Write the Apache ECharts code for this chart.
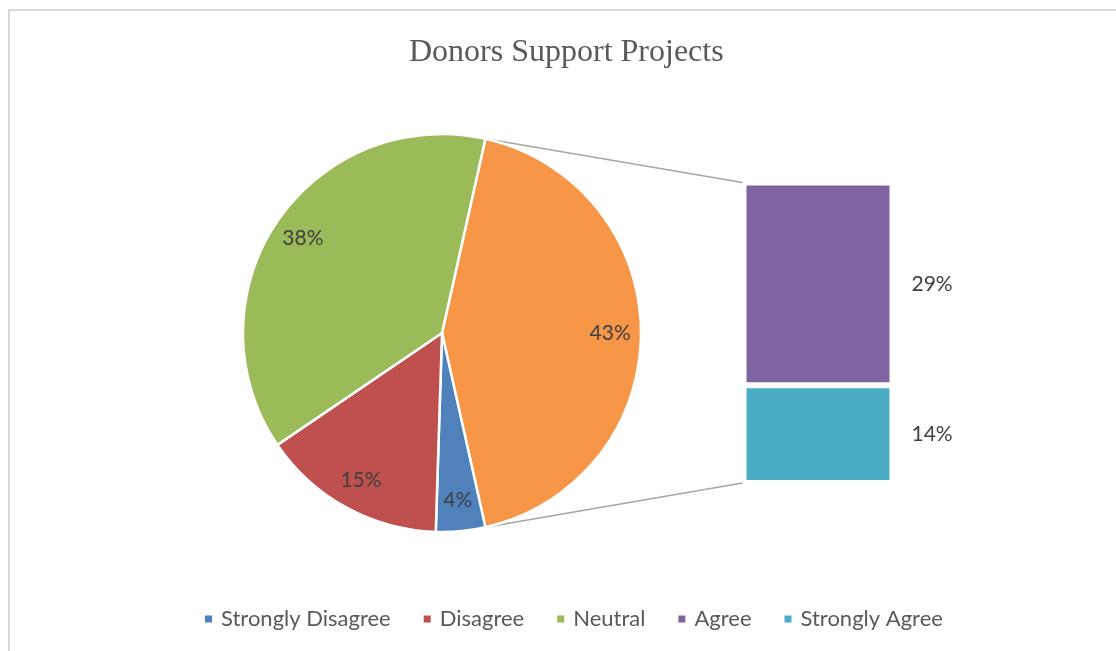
<!DOCTYPE html>
<html>
<head>
<meta charset="utf-8">
<script src="https://cdn.jsdelivr.net/npm/echarts@6/dist/echarts.min.js"></script>
<style>
  html, body { margin: 0; padding: 0; background: #fff; }
  #chart { width: 1116px; height: 651px; }
</style>
</head>
<body>
<div id="chart"></div>
<script>
// Survey answers (percent of respondents)
const pieNames = ['Strongly Disagree', 'Disagree', 'Neutral'];
const pieValues = [4, 15, 38];
const barNames = ['Agree', 'Strongly Agree'];
const barValues = [29, 14];
const otherName = 'Other';
const legendNames = ['Strongly Disagree', 'Disagree', 'Neutral', 'Agree', 'Strongly Agree'];

const colors = {
  'Strongly Disagree': '#4F81BD',
  'Disagree': '#C0504D',
  'Neutral': '#9BBB59',
  'Agree': '#8064A2',
  'Strongly Agree': '#4BACC6',
  'Other': '#F79646'
};

// layout
const pieCenter = [442, 333];
const pieRadius = 199;
const barGrid = { left: 743.5, top: 182.5, width: 149, height: 300.5 };

const otherValue = barValues.reduce((a, b) => a + b, 0);
const total = otherValue + pieValues.reduce((a, b) => a + b, 0);
const otherSweep = otherValue / total * 360;
// the combined slice is centred on the right-hand side, facing the bar
const startAngle = otherSweep / 2;

const pieData = [{ name: otherName, value: otherValue, itemStyle: { color: colors[otherName] } }]
  .concat(pieNames.map((n, i) => ({ name: n, value: pieValues[i], itemStyle: { color: colors[n] } })));

const labelFont = 'Lato, "Open Sans", sans-serif';

const chart = echarts.init(document.getElementById('chart'));

const barLabel = {
  show: true,
  position: 'right',
  distance: 19,
  formatter: '{c}%',
  fontFamily: labelFont,
  fontSize: 21,
  color: '#404040',
  padding: [5, 0, 0, 0]
};

const option = {
  backgroundColor: '#ffffff',
  animation: false,
  title: {
    text: 'Donors Support Projects',
    left: 409,
    top: 37,
    padding: 0,
    textStyle: {
      fontFamily: '"Liberation Serif", "Times New Roman", serif',
      fontSize: 32,
      fontWeight: 'normal',
      color: '#595959'
    }
  },
  legend: {
    data: legendNames,
    bottom: 16,
    left: 198,
    icon: 'rect',
    itemWidth: 9,
    itemHeight: 9,
    itemGap: 31,
    textStyle: {
      fontFamily: labelFont,
      fontSize: 22,
      color: '#595959',
      padding: [0, 0, 0, 3]
    }
  },
  grid: {
    left: barGrid.left,
    top: barGrid.top,
    width: barGrid.width,
    height: barGrid.height
  },
  xAxis: {
    type: 'category',
    data: [otherName],
    show: false
  },
  yAxis: {
    type: 'value',
    min: 0,
    max: otherValue,
    show: false
  },
  series: [
    {
      type: 'pie',
      name: 'Responses',
      center: pieCenter,
      radius: pieRadius,
      startAngle: startAngle,
      clockwise: true,
      data: pieData,
      itemStyle: { borderColor: '#ffffff', borderWidth: 2.5 },
      label: { show: false },
      labelLine: { show: false },
      emphasis: { disabled: true }
    },
    {
      // transparent ring used only to place the percentage labels near the rim
      type: 'pie',
      name: 'Labels',
      center: pieCenter,
      radius: [pieRadius * 0.66, pieRadius],
      startAngle: startAngle,
      clockwise: true,
      silent: true,
      data: pieData.map(d => ({ name: d.name, value: d.value, itemStyle: { color: 'rgba(0,0,0,0)' } })),
      label: {
        show: true,
        position: 'inside',
        formatter: '{c}%',
        fontFamily: labelFont,
        fontSize: 21,
        color: '#404040',
        padding: [6, 0, 0, 0]
      },
      labelLine: { show: false },
      emphasis: { disabled: true }
    },
    {
      type: 'bar',
      name: barNames[1],
      stack: 'other',
      barWidth: '100%',
      data: [barValues[1]],
      itemStyle: { color: colors[barNames[1]], borderColor: '#ffffff', borderWidth: 3 },
      label: barLabel,
      emphasis: { disabled: true }
    },
    {
      type: 'bar',
      name: barNames[0],
      stack: 'other',
      barWidth: '100%',
      data: [barValues[0]],
      itemStyle: { color: colors[barNames[0]], borderColor: '#ffffff', borderWidth: 3 },
      label: barLabel,
      emphasis: { disabled: true }
    }
  ]
};

chart.setOption(option);

// connector lines from the edges of the combined slice to the bar corners
function piePoint(angleDeg) {
  const a = angleDeg * Math.PI / 180;
  return [pieCenter[0] + pieRadius * Math.cos(a), pieCenter[1] - pieRadius * Math.sin(a)];
}
const p1 = piePoint(startAngle);
const p2 = piePoint(startAngle - otherSweep);
const barTopY = chart.convertToPixel({ yAxisIndex: 0 }, otherValue);
const barBottomY = chart.convertToPixel({ yAxisIndex: 0 }, 0);
const barLeftX = barGrid.left - 1;

chart.setOption({
  graphic: [
    {
      type: 'rect',
      shape: { x: 9, y: 10, width: 1300, height: 800 },
      style: { fill: 'none', stroke: '#d9d9d9', lineWidth: 2 },
      silent: true,
      z: -10
    },
    {
      type: 'line',
      shape: { x1: p1[0], y1: p1[1], x2: barLeftX, y2: barTopY },
      style: { stroke: '#a6a6a6', lineWidth: 1.5 },
      silent: true,
      z: -1
    },
    {
      type: 'line',
      shape: { x1: p2[0], y1: p2[1], x2: barLeftX, y2: barBottomY },
      style: { stroke: '#a6a6a6', lineWidth: 1.5 },
      silent: true,
      z: -1
    }
  ]
});
</script>
</body>
</html>
